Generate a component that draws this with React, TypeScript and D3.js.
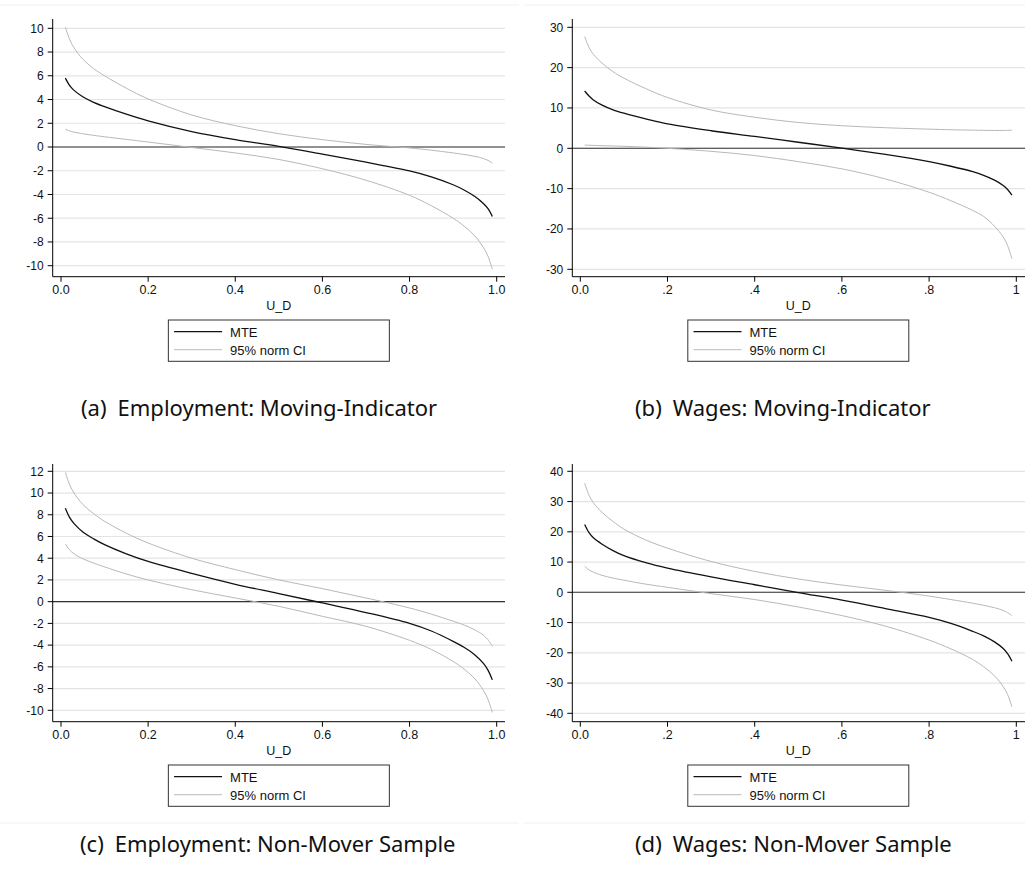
import React from "react";
import * as d3 from "d3";

// ---------- data ----------
const uGrid = [0.01, 0.02, 0.03, 0.05, 0.075, 0.1, 0.15, 0.2, 0.3, 0.4, 0.5, 0.6, 0.7, 0.8, 0.85, 0.9, 0.925, 0.95, 0.97, 0.98, 0.99];

// (a) Employment: Moving-Indicator
const mteA = [5.8, 5.17, 4.77, 4.23, 3.76, 3.4, 2.76, 2.2, 1.3, 0.62, 0.05, -0.6, -1.28, -2.02, -2.52, -3.18, -3.62, -4.17, -4.78, -5.2, -5.85];
const upperA = [10.1, 9.05, 8.35, 7.4, 6.6, 6.0, 4.95, 4.05, 2.7, 1.8, 1.12, 0.62, 0.22, -0.08, -0.27, -0.5, -0.63, -0.79, -0.98, -1.13, -1.35];
const lowerA = [1.5, 1.35, 1.25, 1.12, 0.98, 0.86, 0.64, 0.42, -0.04, -0.5, -1.05, -1.83, -2.8, -4.07, -4.95, -6.0, -6.66, -7.5, -8.5, -9.2, -10.3];

// (b) Wages: Moving-Indicator
const mteB = [14.2, 12.95, 12.0, 10.7, 9.55, 8.7, 7.3, 6.05, 4.35, 2.95, 1.5, 0.05, -1.5, -3.3, -4.45, -5.8, -6.7, -7.88, -9.2, -10.2, -11.6];
const upperB = [27.7, 25.0, 23.3, 21.1, 19.0, 17.4, 14.8, 12.6, 9.5, 7.7, 6.4, 5.6, 5.1, 4.75, 4.6, 4.5, 4.45, 4.42, 4.42, 4.45, 4.5];
const lowerB = [0.8, 0.75, 0.72, 0.65, 0.58, 0.5, 0.28, 0.0, -0.75, -1.8, -3.3, -5.1, -7.6, -10.9, -13.0, -15.4, -16.9, -19.3, -22.0, -24.1, -27.4];

// (c) Employment: Non-Mover Sample
const mteC = [8.6, 7.73, 7.18, 6.42, 5.78, 5.25, 4.4, 3.7, 2.6, 1.6, 0.75, -0.12, -1.0, -2.0, -2.7, -3.65, -4.2, -4.9, -5.7, -6.3, -7.2];
const upperC = [11.9, 10.75, 10.0, 8.95, 8.1, 7.4, 6.3, 5.4, 4.0, 2.95, 2.0, 1.2, 0.34, -0.58, -1.15, -1.8, -2.15, -2.6, -3.1, -3.5, -4.1];
const lowerC = [5.3, 4.75, 4.4, 3.95, 3.55, 3.2, 2.55, 2.0, 1.1, 0.34, -0.43, -1.35, -2.27, -3.56, -4.4, -5.5, -6.2, -7.1, -8.2, -9.0, -10.2];

// (d) Wages: Non-Mover Sample
const mteD = [22.4, 19.7, 18.0, 15.9, 13.8, 12.1, 9.8, 8.0, 5.1, 2.5, -0.1, -2.6, -5.4, -8.3, -10.3, -12.9, -14.4, -16.4, -18.6, -20.3, -22.8];
const upperD = [36.1, 32.1, 29.6, 26.4, 23.4, 20.9, 17.3, 14.6, 10.2, 6.9, 4.4, 2.4, 0.66, -1.25, -2.4, -3.6, -4.3, -5.1, -6.0, -6.7, -7.7];
const lowerD = [8.6, 7.4, 6.65, 5.6, 4.7, 4.0, 2.7, 1.65, -0.44, -2.4, -4.85, -7.7, -11.2, -15.8, -18.7, -22.2, -24.6, -27.6, -31.2, -33.8, -37.9];

// ticks
const yTicksA = [-10, -8, -6, -4, -2, 0, 2, 4, 6, 8, 10];
const yTicksB = [-30, -20, -10, 0, 10, 20, 30];
const yTicksC = [-10, -8, -6, -4, -2, 0, 2, 4, 6, 8, 10, 12];
const yTicksD = [-40, -30, -20, -10, 0, 10, 20, 30, 40];
const xTickValues = [0, 0.2, 0.4, 0.6, 0.8, 1];
const xTickLabelsLeft = ["0.0", "0.2", "0.4", "0.6", "0.8", "1.0"];
const xTickLabelsRight = ["0.0", ".2", ".4", ".6", ".8", "1"];

const xAxisTitle = "U_D";
const legendLabels = ["MTE", "95% norm CI"];
const captionTags = ["(a)", "(b)", "(c)", "(d)"];
const captionTexts = [
  "Employment: Moving-Indicator",
  "Wages: Moving-Indicator",
  "Employment: Non-Mover Sample",
  "Wages: Non-Mover Sample",
];

// ---------- layout ----------
const W = 1025;
const H = 869;
const AX_FONT = "'Liberation Sans', Arial, sans-serif";
const CAP_FONT = "'Noto Sans', 'Open Sans', sans-serif";

type Panel = {
  ox: number;
  oy: number;
  x0: number; x1: number;
  right: number;
  yDom: [number, number];
  yRange: [number, number];
  ticks: number[];
  xLabels: string[];
  mte: number[]; up: number[]; lo: number[];
  capX: number; capY: number;
};

const panels: Panel[] = [
  { ox: 52.7, oy: 0, x0: 61, x1: 496.7, right: 505, yDom: [-10, 10], yRange: [265.7, 28.3], ticks: yTicksA, xLabels: xTickLabelsLeft, mte: mteA, up: upperA, lo: lowerA, capX: 81, capY: 416 },
  { ox: 572.3, oy: 0, x0: 580.3, x1: 1016.3, right: 1026, yDom: [-30, 30], yRange: [269.3, 27.3], ticks: yTicksB, xLabels: xTickLabelsRight, mte: mteB, up: upperB, lo: lowerB, capX: 635, capY: 416 },
  { ox: 52.7, oy: 445, x0: 61, x1: 496.7, right: 505, yDom: [-10, 12], yRange: [265.3, 26.3], ticks: yTicksC, xLabels: xTickLabelsLeft, mte: mteC, up: upperC, lo: lowerC, capX: 80, capY: 852 },
  { ox: 572.3, oy: 445, x0: 580.3, x1: 1016.3, right: 1026, yDom: [-40, 40], yRange: [268.3, 26.3], ticks: yTicksD, xLabels: xTickLabelsRight, mte: mteD, up: upperD, lo: lowerD, capX: 635, capY: 852 },
];

const AXIS_TOP = 19;
const AXIS_BOTTOM = 276.7;

function PanelView({ p, idx }: { p: Panel; idx: number }) {
  const x = d3.scaleLinear().domain([0, 1]).range([p.x0, p.x1]);
  const y = d3.scaleLinear().domain(p.yDom).range([p.oy + p.yRange[0], p.oy + p.yRange[1]]);
  const line = d3
    .line<number>()
    .x((_, i) => x(uGrid[i]))
    .y((v) => y(v))
    .curve(d3.curveCatmullRom.alpha(0.5));
  const top = p.oy + AXIS_TOP;
  const bottom = p.oy + AXIS_BOTTOM;
  const cx = (p.x0 + p.x1) / 2;
  const legX = cx - 110.5;
  const legY = p.oy + 320;
  return (
    <g>
      {p.ticks.map((t) => (
        <line key={"g" + t} x1={p.ox} x2={p.right} y1={y(t)} y2={y(t)} stroke="#e4e4e4" strokeWidth={1.2} />
      ))}
      <line x1={p.ox} x2={p.right} y1={y(0)} y2={y(0)} stroke="#333" strokeWidth={1.1} />
      <path d={line(p.up) || ""} fill="none" stroke="#b8b8b8" strokeWidth={1} />
      <path d={line(p.lo) || ""} fill="none" stroke="#b8b8b8" strokeWidth={1} />
      <path d={line(p.mte) || ""} fill="none" stroke="#111" strokeWidth={1.3} />
      <line x1={p.ox} x2={p.ox} y1={top} y2={bottom} stroke="#000" strokeWidth={1} />
      {p.ticks.map((t) => (
        <g key={"t" + t}>
          <line x1={p.ox - 5} x2={p.ox} y1={y(t)} y2={y(t)} stroke="#000" strokeWidth={1} />
          <text x={p.ox - 9} y={y(t)} dy="0.36em" textAnchor="end" fontFamily={AX_FONT} fontSize={12} fill="#111">
            {t}
          </text>
        </g>
      ))}
      <line x1={p.ox} x2={p.right} y1={bottom} y2={bottom} stroke="#000" strokeWidth={1} />
      {xTickValues.map((v, i) => (
        <g key={"x" + v}>
          <line x1={x(v)} x2={x(v)} y1={bottom} y2={bottom + 5} stroke="#000" strokeWidth={1} />
          <text x={x(v)} y={bottom + 17} textAnchor="middle" fontFamily={AX_FONT} fontSize={12.5} fill="#111">
            {p.xLabels[i]}
          </text>
        </g>
      ))}
      <text x={cx} y={p.oy + 309.5} textAnchor="middle" fontFamily={AX_FONT} fontSize={12.5} fill="#111">
        {xAxisTitle}
      </text>
      <rect x={legX} y={legY} width={221} height={41.3} fill="#fff" stroke="#333" strokeWidth={1} />
      <line x1={legX + 5.7} x2={legX + 53.7} y1={legY + 11.7} y2={legY + 11.7} stroke="#111" strokeWidth={1.3} />
      <line x1={legX + 5.7} x2={legX + 53.7} y1={legY + 29.7} y2={legY + 29.7} stroke="#c8c8c8" strokeWidth={1.2} />
      <text x={legX + 61.7} y={legY + 16.5} fontFamily={AX_FONT} fontSize={13} fill="#111">
        {legendLabels[0]}
      </text>
      <text x={legX + 61.7} y={legY + 35.3} fontFamily={AX_FONT} fontSize={13} fill="#111">
        {legendLabels[1]}
      </text>
      <text x={p.capX} y={p.capY} fontFamily={CAP_FONT} fontSize={22} fill="#111">
        <tspan>{captionTags[idx]}</tspan>
        <tspan dx={11}>{captionTexts[idx]}</tspan>
      </text>
    </g>
  );
}

export default function App() {
  return (
    <svg
      width={W}
      height={H}
      viewBox={`0 0 ${W} ${H}`}
      style={{ position: "absolute", left: 0, top: 0, background: "#fff" }}
    >
      <rect x={0} y={0} width={W} height={H} fill="#fff" />
      <line x1={0} x2={519} y1={5} y2={5} stroke="#f0f0f0" strokeWidth={1} />
      <line x1={524} x2={W} y1={5} y2={5} stroke="#f0f0f0" strokeWidth={1} />
      <line x1={0} x2={519} y1={823} y2={823} stroke="#f0f0f0" strokeWidth={1} />
      <line x1={524} x2={W} y1={823} y2={823} stroke="#f0f0f0" strokeWidth={1} />
      {panels.map((p, i) => (
        <PanelView key={i} p={p} idx={i} />
      ))}
    </svg>
  );
}
